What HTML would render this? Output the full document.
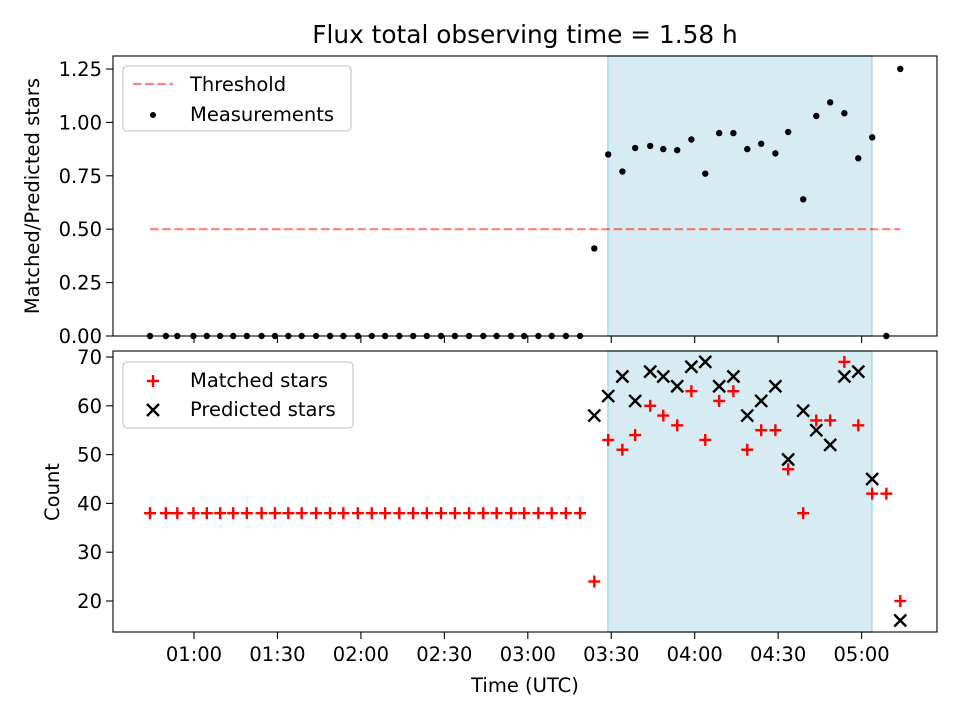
<!DOCTYPE html>
<html><head><meta charset="utf-8"><style>
html,body{margin:0;padding:0;background:#fff;}
svg{display:block;font-family:"DejaVu Sans","Liberation Sans",sans-serif;}
</style></head><body>
<svg id="chart" width="960" height="720" viewBox="0 0 960 720" xmlns="http://www.w3.org/2000/svg"></svg>
<script>
// time in minutes since 00:00 UTC
const times = [44.2,49.9,54.0,59.8,64.6,69.4,74.1,79.0,84.3,89.1,93.9,98.7,103.9,108.9,113.7,118.9,123.9,128.7,133.8,138.8,143.7,148.8,153.8,158.9,164.0,168.8,174.0,178.7,183.8,188.6,193.7,198.8,
 203.9,208.9,214.0,218.6,224.0,228.7,233.7,238.8,243.8,248.8,253.9,258.9,263.9,269.0,273.6,279.0,283.7,288.7,293.8,298.8,303.8,308.9,313.9];
const ratios = [0,0,0,0,0,0,0,0,0,0,0,0,0,0,0,0,0,0,0,0,0,0,0,0,0,0,0,0,0,0,0,0,
 0.41,0.85,0.77,0.88,0.89,0.875,0.87,0.92,0.76,0.95,0.95,0.875,0.90,0.855,0.955,0.64,1.03,1.094,1.043,0.832,0.93,0,1.25];
const matched = [38,38,38,38,38,38,38,38,38,38,38,38,38,38,38,38,38,38,38,38,38,38,38,38,38,38,38,38,38,38,38,38,
 24,53,51,54,60,58,56,63,53,61,63,51,55,55,47,38,57,57,69,56,42,42,20];
const predicted = [null,null,null,null,null,null,null,null,null,null,null,null,null,null,null,null,null,null,null,null,null,null,null,null,null,null,null,null,null,null,null,null,
 58,62,66,61,67,66,64,68,69,64,66,58,61,64,49,59,55,52,66,67,45,null,16];
const threshold = 0.5;
const shadeSpan = [208.8, 303.7];
const xTickMinutes = [60,90,120,150,180,210,240,270,300];
const xTickLabels = ["01:00","01:30","02:00","02:30","03:00","03:30","04:00","04:30","05:00"];
const topTicks = [0,0.25,0.5,0.75,1.0,1.25];
const topTickLabels = ["0.00","0.25","0.50","0.75","1.00","1.25"];
const botTicks = [20,30,40,50,60,70];
const botTickLabels = ["20","30","40","50","60","70"];

const NS="http://www.w3.org/2000/svg";
const svg=document.getElementById('chart');
function mk(tag,attrs,parent){const e=document.createElementNS(NS,tag);for(const k in attrs)e.setAttribute(k,attrs[k]);(parent||svg).appendChild(e);return e;}
const L=113,R=937;
const xMin=30.88,xMax=327.1;
const X=t=>L+(t-xMin)/(xMax-xMin)*(R-L);
const T={top:56,bot:336,min:0,max:1.3109};
const B={top:351,bot:632,min:13.65,max:71.23};
const Yt=v=>T.bot-(v-T.min)/(T.max-T.min)*(T.bot-T.top);
const Yb=v=>B.bot-(v-B.min)/(B.max-B.min)*(B.bot-B.top);

[[T,'top'],[B,'bottom']].forEach(([ax,nm])=>{
 const r=mk('rect',{x:X(shadeSpan[0]),y:ax.top,width:X(shadeSpan[1])-X(shadeSpan[0]),height:ax.bot-ax.top,fill:'#add8e6','fill-opacity':0.5,stroke:'#add8e6','stroke-width':1.5});
 
 
});

const th=mk('line',{x1:X(times[0]),x2:X(times[times.length-1]),y1:Yt(threshold),y2:Yt(threshold),stroke:'#ff0000','stroke-opacity':0.5,'stroke-width':2.2,'stroke-dasharray':'8.5 3.7'});



times.forEach((t,i)=>{
 const c=mk('circle',{cx:X(t),cy:Yt(ratios[i]),r:3.2,fill:'#000'});
 
 
});

function plus(x,y,col){const g=mk('g',{stroke:col,'stroke-width':2.4});mk('line',{x1:x-6,x2:x+6,y1:y,y2:y},g);mk('line',{x1:x,x2:x,y1:y-6,y2:y+6},g);return g;}
function cross(x,y,col){const g=mk('g',{stroke:col,'stroke-width':2.4});mk('line',{x1:x-6,x2:x+6,y1:y-6,y2:y+6},g);mk('line',{x1:x-6,x2:x+6,y1:y+6,y2:y-6},g);return g;}
times.forEach((t,i)=>{
 if(matched[i]!=null){const g=plus(X(t),Yb(matched[i]),'#ff0000');
  
  }
});
times.forEach((t,i)=>{
 if(predicted[i]!=null){const g=cross(X(t),Yb(predicted[i]),'#000');
  
  }
});

[[T,'top'],[B,'bottom']].forEach(([ax,nm])=>{
 const f=mk('rect',{x:L,y:ax.top,width:R-L,height:ax.bot-ax.top,fill:'none',stroke:'#000','stroke-width':1.1});
 
 
 xTickMinutes.forEach(m=>{mk('line',{x1:X(m),x2:X(m),y1:ax.bot,y2:ax.bot+7,stroke:'#000','stroke-width':1.1});});
});
xTickMinutes.forEach((m,i)=>{
 const t=mk('text',{x:X(m),y:B.bot+29,'text-anchor':'middle','font-size':'19.5px',fill:'#000'});
 t.textContent=xTickLabels[i];
 
 
});
topTicks.forEach((v,i)=>{
 mk('line',{x1:L-7,x2:L,y1:Yt(v),y2:Yt(v),stroke:'#000','stroke-width':1.1});
 const t=mk('text',{x:L-11,y:Yt(v)+7,'text-anchor':'end','font-size':'19.5px',fill:'#000'});
 t.textContent=topTickLabels[i];
 
 
});
botTicks.forEach((v,i)=>{
 mk('line',{x1:L-7,x2:L,y1:Yb(v),y2:Yb(v),stroke:'#000','stroke-width':1.1});
 const t=mk('text',{x:L-11,y:Yb(v)+7,'text-anchor':'end','font-size':'19.5px',fill:'#000'});
 t.textContent=botTickLabels[i];
 
 
});
</script>
<svg width="960" height="720" style="position:absolute;left:0;top:0" xmlns="http://www.w3.org/2000/svg">
 <text x="525" y="43" text-anchor="middle" font-size="24.8px">Flux total observing time = 1.58 h</text>
 <text x="0" y="0" transform="translate(39,196) rotate(-90)" text-anchor="middle" font-size="19.5px">Matched/Predicted stars</text>
 <text x="0" y="0" transform="translate(59,492) rotate(-90)" text-anchor="middle" font-size="19.5px">Count</text>
 <text x="525" y="692" text-anchor="middle" font-size="19.5px">Time (UTC)</text>
 <g>
  <rect x="123" y="66" width="228" height="65" rx="4" fill="#fff" fill-opacity="0.8" stroke="#ccc" stroke-width="1.3"/>
  <line x1="133" x2="173" y1="84" y2="84" stroke="#ff0000" stroke-opacity="0.5" stroke-width="2.2" stroke-dasharray="8.5 3.7"/>
  <text x="190" y="91" font-size="19.5px">Threshold</text>
  <circle cx="153" cy="115" r="3" fill="#000"/>
  <text x="190" y="121" font-size="19.5px">Measurements</text>
 </g>
 <g>
  <rect x="123" y="362" width="230" height="66" rx="4" fill="#fff" fill-opacity="0.8" stroke="#ccc" stroke-width="1.3"/>
  <g stroke="#ff0000" stroke-width="2.4"><line x1="147" x2="159" y1="381" y2="381"/><line x1="153" x2="153" y1="375" y2="387"/></g>
  <text x="190" y="387" font-size="19.5px">Matched stars</text>
  <g stroke="#000" stroke-width="2.4"><line x1="147" x2="159" y1="404" y2="416"/><line x1="147" x2="159" y1="416" y2="404"/></g>
  <text x="190" y="416" font-size="19.5px">Predicted stars</text>
 </g>
</svg>
</body></html>
